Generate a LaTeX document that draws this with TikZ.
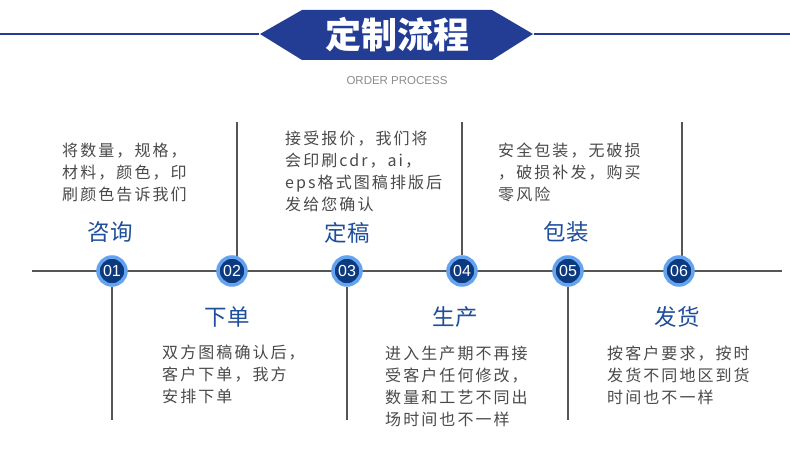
\documentclass[tikz,border=0pt]{standalone}
\usepackage{fontspec}
\usetikzlibrary{backgrounds}
\newfontfamily\cjk{Noto Sans CJK SC}
\newfontfamily\cjkdesc[LetterSpace=13]{Noto Sans CJK SC}
\newfontfamily\latsans{Liberation Sans}
\definecolor{bannerblue}{HTML}{233D95}
\definecolor{navy}{HTML}{0D3A7E}
\definecolor{ringblue}{HTML}{63A3F0}
\definecolor{titleblue}{HTML}{1F4E9C}
\definecolor{descgray}{HTML}{4A4A4A}
\definecolor{linegray}{HTML}{555555}
\tikzset{
  stepnum/.style={circle,fill=navy,draw=ringblue,line width=3.5pt,minimum size=28pt,inner sep=0pt,
    text=white,font=\latsans\fontsize{16}{16}\selectfont},
  steptitle/.style={text=titleblue,font=\cjk\fontsize{22.5}{22.5}\selectfont,inner sep=0pt},
  stepdesc/.style={text=descgray,font=\cjkdesc\fontsize{16}{22}\selectfont,align=left,anchor=north west,inner sep=0pt},
  axis/.style={draw=linegray,line width=1.3pt}
}
\begin{document}
\begin{tikzpicture}[x=1pt,y=-1pt]
		\useasboundingbox (0,0) rectangle (790,452);
		%bandeau
		\coordinate (bl) at (0,34);
		\coordinate (br) at (790,34);
		\fill[bannerblue] (260,34) -- (302,10) -- (492,10) -- (533,34) -- (492,60) -- (302,60) -- cycle;
		\node[inner sep=0pt] (tl) at (260,34) {};
		\node[inner sep=0pt] (tr) at (533,34) {};
		\draw[bannerblue,line width=1.5pt] (bl) -- (tl);
		\draw[bannerblue,line width=1.5pt] (tr) -- (br);
		\node[text=white,font=\cjk\bfseries\fontsize{36}{36}\selectfont] (titre) at (397,35) {定制流程};
		\node[text=black!45,font=\latsans\fontsize{11.5}{11.5}\selectfont] (sous) at (397,81) {ORDER PROCESS};
		%axe
		\coordinate (ax0) at (32,271);
		\coordinate (ax1) at (782,271);
		%étapes
		\node[stepnum] (c1) at (112,271) {01};
		\node[stepnum] (c2) at (232,271) {02};
		\node[stepnum] (c3) at (347,271) {03};
		\node[stepnum] (c4) at (462,271) {04};
		\node[stepnum] (c5) at (568,271) {05};
		\node[stepnum] (c6) at (679,271) {06};
		%traits verticaux
		\coordinate (v1) at (112,420);
		\coordinate (v2) at (237,122);
		\coordinate (v3) at (347,420);
		\coordinate (v4) at (462,122);
		\coordinate (v5) at (568,420);
		\coordinate (v6) at (682,122);
		\begin{scope}[on background layer]
		\fill[white] (0,0) rectangle (790,452);
		\draw[axis] (ax0) -- (ax1);
		\draw[axis] (c1) -- (v1);
		\draw[axis] (v2 |- c2) -- (v2);
		\draw[axis] (c3) -- (v3);
		\draw[axis] (c4) -- (v4);
		\draw[axis] (c5) -- (v5);
		\draw[axis] (v6 |- c6) -- (v6);
		\end{scope}
		%titres
		\node[steptitle] (t1) at (110,232) {咨询};
		\node[steptitle] (t2) at (227,317) {下单};
		\node[steptitle] (t3) at (347,233) {定稿};
		\node[steptitle] (t4) at (455,317) {生产};
		\node[steptitle] (t5) at (566,232) {包装};
		\node[steptitle] (t6) at (677,317) {发货};
		%textes
		\node[stepdesc] (d1) at (62,143) {将数量，规格，\\材料，颜色，印\\刷颜色告诉我们};
		\node[stepdesc] (d2) at (285,131) {接受报价，我们将\\会印刷cdr，ai，\\eps格式图稿排版后\\发给您确认};
		\node[stepdesc] (d3) at (498,143) {安全包装，无破损\\，破损补发，购买\\零风险};
		\node[stepdesc] (d4) at (162,345) {双方图稿确认后，\\客户下单，我方\\安排下单};
		\node[stepdesc] (d5) at (385,346) {进入生产期不再接\\受客户任何修改，\\数量和工艺不同出\\场时间也不一样};
		\node[stepdesc] (d6) at (607,346) {按客户要求，按时\\发货不同地区到货\\时间也不一样};
	\end{tikzpicture}
\end{document}
